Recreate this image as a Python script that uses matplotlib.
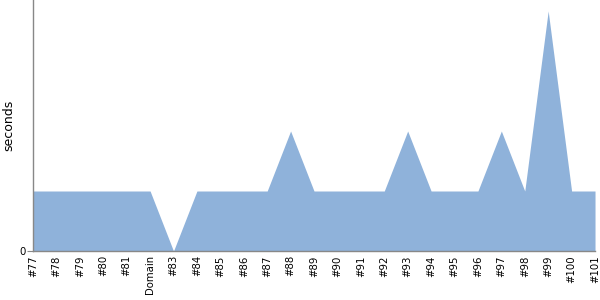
import matplotlib
matplotlib.use('Agg')
import matplotlib.pyplot as plt
import numpy as np

# Build labels and durations
labels = ['#77', '#78', '#79', '#80', '#81', 'Domain', '#83', '#84', '#85', '#86',
          '#87', '#88', '#89', '#90', '#91', '#92', '#93', '#94', '#95', '#96',
          '#97', '#98', '#99', '#100', '#101']
seconds = [1, 1, 1, 1, 1, 1, 0, 1, 1, 1,
           1, 2, 1, 1, 1, 1, 2, 1, 1, 1,
           2, 1, 4, 1, 1]

fig = plt.figure(figsize=(6, 3), dpi=100)
ax = fig.add_axes([0.055, 0.1633, 0.9367, 0.8367])

x = np.arange(len(labels))
ax.fill_between(x, seconds, 0, color='#8fb2da', linewidth=0)

ax.set_xlim(0, len(labels) - 1)
ax.set_ylim(0, 4.183)
ax.set_xticks(x)
ax.set_xticklabels(labels, rotation=90, fontsize=7.3)
ax.tick_params(axis='x', length=0, pad=3)
ax.set_yticks([0])
ax.set_yticklabels(['0'], fontsize=7.3)
ax.tick_params(axis='y', length=4, color='#888888', pad=1)
ax.set_ylabel('seconds', fontsize=9, labelpad=3)

for side in ['top', 'right']:
    ax.spines[side].set_visible(False)
for side in ['left', 'bottom']:
    ax.spines[side].set_color('#888888')
    ax.spines[side].set_linewidth(1)

fig.savefig('out.png', dpi=100)
